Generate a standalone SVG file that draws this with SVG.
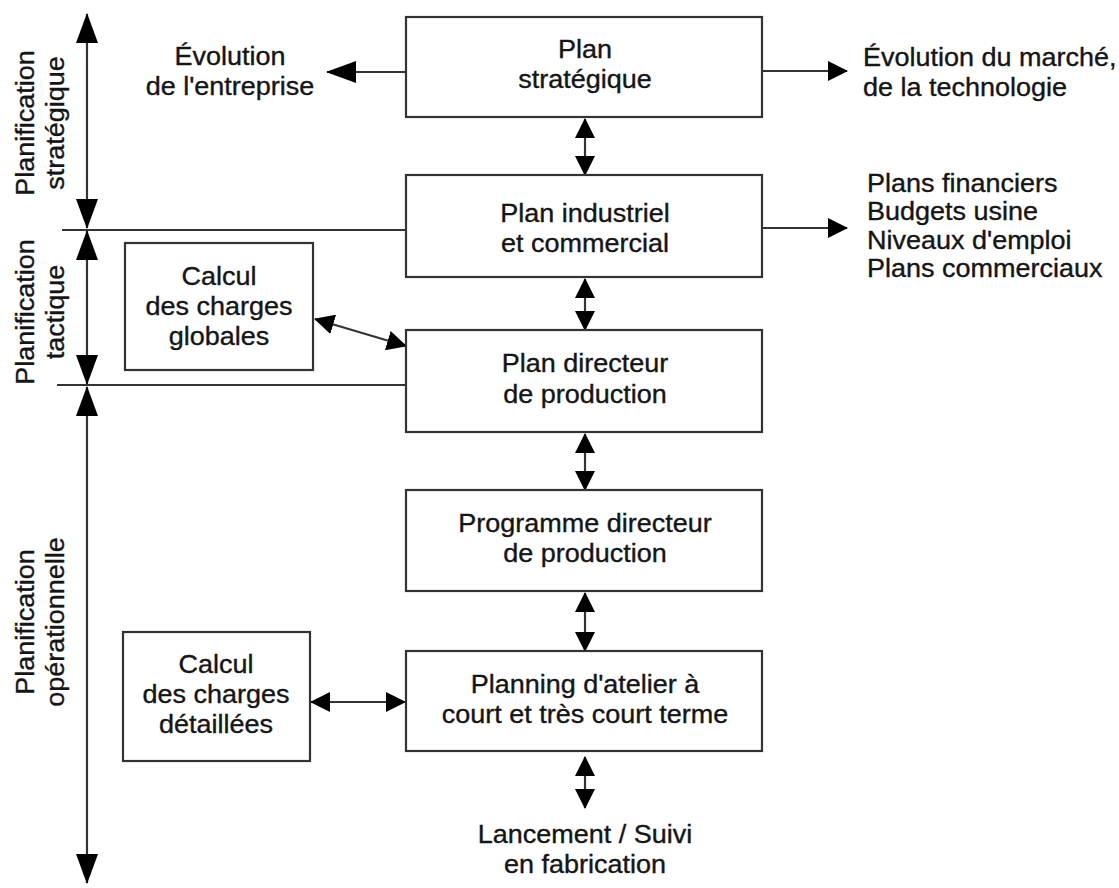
<svg xmlns="http://www.w3.org/2000/svg" width="1119" height="888" viewBox="0 0 1119 888">
  <style>
    .box { fill: #fff; stroke: #333; stroke-width: 2.2; }
    .ln { fill: none; stroke: #333; stroke-width: 2.2; }
    .t { font-family: "Liberation Sans", Arial, Helvetica, sans-serif; font-size: 25px; fill: #151515; stroke: #151515; stroke-width: 0.35; }
    .c { text-anchor: middle; }
  </style>
  <defs>
    <marker id="head" viewBox="0 0 20 20" refX="19" refY="10" markerWidth="20" markerHeight="20" markerUnits="userSpaceOnUse" orient="auto-start-reverse">
      <path d="M0,0 L20,10 L0,20 z" fill="#000"/>
    </marker>
    <marker id="bighead" viewBox="0 0 30 22" refX="29" refY="11" markerWidth="30" markerHeight="22" markerUnits="userSpaceOnUse" orient="auto-start-reverse">
      <path d="M0,0 L30,11 L0,22 z" fill="#000"/>
    </marker>
  </defs>
  <rect width="1119" height="888" fill="#fff"/>

  <!-- horizon axis and level labels -->
  <g id="axis">
    <line class="ln" x1="87" y1="14" x2="87" y2="228" marker-start="url(#bighead)" marker-end="url(#bighead)"/>
    <line class="ln" x1="87" y1="231" x2="87" y2="384" marker-start="url(#bighead)" marker-end="url(#bighead)"/>
    <line class="ln" x1="87" y1="387" x2="87" y2="883" marker-start="url(#bighead)" marker-end="url(#bighead)"/>
    <line class="ln" x1="62" y1="230" x2="406" y2="230"/>
    <line class="ln" x1="57" y1="385" x2="406" y2="385"/>
    <text class="t c" transform="translate(34 123) rotate(-90) scale(1.08 1)"><tspan x="0" y="0">Planification</tspan><tspan x="0" dy="30">stratégique</tspan></text>
    <text class="t c" transform="translate(34 312) rotate(-90) scale(1.08 1)"><tspan x="0" y="0">Planification</tspan><tspan x="0" dy="30">tactique</tspan></text>
    <text class="t c" transform="translate(34 622) rotate(-90) scale(1.08 1)"><tspan x="0" y="0">Planification</tspan><tspan x="0" dy="30">opérationnelle</tspan></text>
  </g>

  <!-- connectors -->
  <g id="connectors">
    <line class="ln" x1="406" y1="72" x2="327" y2="72" marker-end="url(#bighead)"/>
    <line class="ln" x1="762" y1="71" x2="847" y2="71" marker-end="url(#head)"/>
    <line class="ln" x1="762" y1="228" x2="847" y2="228" marker-end="url(#head)"/>
    <line class="ln" x1="585" y1="119" x2="585" y2="175" marker-start="url(#head)" marker-end="url(#head)"/>
    <line class="ln" x1="585" y1="279" x2="585" y2="330" marker-start="url(#head)" marker-end="url(#head)"/>
    <line class="ln" x1="585" y1="434" x2="585" y2="490" marker-start="url(#head)" marker-end="url(#head)"/>
    <line class="ln" x1="585" y1="593" x2="585" y2="651" marker-start="url(#head)" marker-end="url(#head)"/>
    <line class="ln" x1="585" y1="757" x2="585" y2="808" marker-start="url(#head)" marker-end="url(#head)"/>
    <line class="ln" x1="315" y1="319" x2="406" y2="346" marker-start="url(#head)" marker-end="url(#head)"/>
    <line class="ln" x1="311" y1="702" x2="405" y2="702" marker-start="url(#head)" marker-end="url(#head)"/>
  </g>

  <g id="plan-strategique">
    <rect class="box" x="406" y="17" width="356" height="100"/>
    <text class="t c" transform="translate(585 58) scale(1.08 1)"><tspan x="0" y="0">Plan</tspan><tspan x="0" dy="30">stratégique</tspan></text>
  </g>
  <g id="plan-industriel">
    <rect class="box" x="406" y="175" width="356" height="102"/>
    <text class="t c" transform="translate(585 222) scale(1.08 1)"><tspan x="0" y="0">Plan industriel</tspan><tspan x="0" dy="30">et commercial</tspan></text>
  </g>
  <g id="plan-directeur">
    <rect class="box" x="406" y="330" width="356" height="102"/>
    <text class="t c" transform="translate(585 372) scale(1.08 1)"><tspan x="0" y="0">Plan directeur</tspan><tspan x="0" dy="31">de production</tspan></text>
  </g>
  <g id="programme-directeur">
    <rect class="box" x="406" y="490" width="356" height="101"/>
    <text class="t c" transform="translate(585 532) scale(1.08 1)"><tspan x="0" y="0">Programme directeur</tspan><tspan x="0" dy="30">de production</tspan></text>
  </g>
  <g id="planning-atelier">
    <rect class="box" x="406" y="651" width="356" height="100"/>
    <text class="t c" transform="translate(585 693) scale(1.08 1)"><tspan x="0" y="0">Planning d'atelier à</tspan><tspan x="0" dy="30">court et très court terme</tspan></text>
  </g>
  <g id="charges-globales">
    <rect class="box" x="125" y="243" width="188" height="127"/>
    <text class="t c" transform="translate(219 285) scale(1.08 1)"><tspan x="0" y="0">Calcul</tspan><tspan x="0" dy="30">des charges</tspan><tspan x="0" dy="30">globales</tspan></text>
  </g>
  <g id="charges-detaillees">
    <rect class="box" x="123" y="632" width="187" height="129"/>
    <text class="t c" transform="translate(216 673) scale(1.08 1)"><tspan x="0" y="0">Calcul</tspan><tspan x="0" dy="30">des charges</tspan><tspan x="0" dy="30">détaillées</tspan></text>
  </g>
  <g id="evolution-entreprise">
    <text class="t c" transform="translate(230 65) scale(1.08 1)"><tspan x="0" y="0">Évolution</tspan><tspan x="0" dy="30">de l'entreprise</tspan></text>
  </g>
  <g id="evolution-marche">
    <text class="t" transform="translate(863 66) scale(1.08 1)"><tspan x="0" y="0">Évolution du marché,</tspan><tspan x="0" dy="30">de la technologie</tspan></text>
  </g>
  <g id="plans-sortants">
    <text class="t" transform="translate(867 192) scale(1.08 1)"><tspan x="0" y="0">Plans financiers</tspan><tspan x="0" dy="28">Budgets usine</tspan><tspan x="0" dy="29">Niveaux d'emploi</tspan><tspan x="0" dy="28">Plans commerciaux</tspan></text>
  </g>
  <g id="lancement-suivi">
    <text class="t c" transform="translate(585 843) scale(1.08 1)"><tspan x="0" y="0">Lancement / Suivi</tspan><tspan x="0" dy="30">en fabrication</tspan></text>
  </g>
</svg>
